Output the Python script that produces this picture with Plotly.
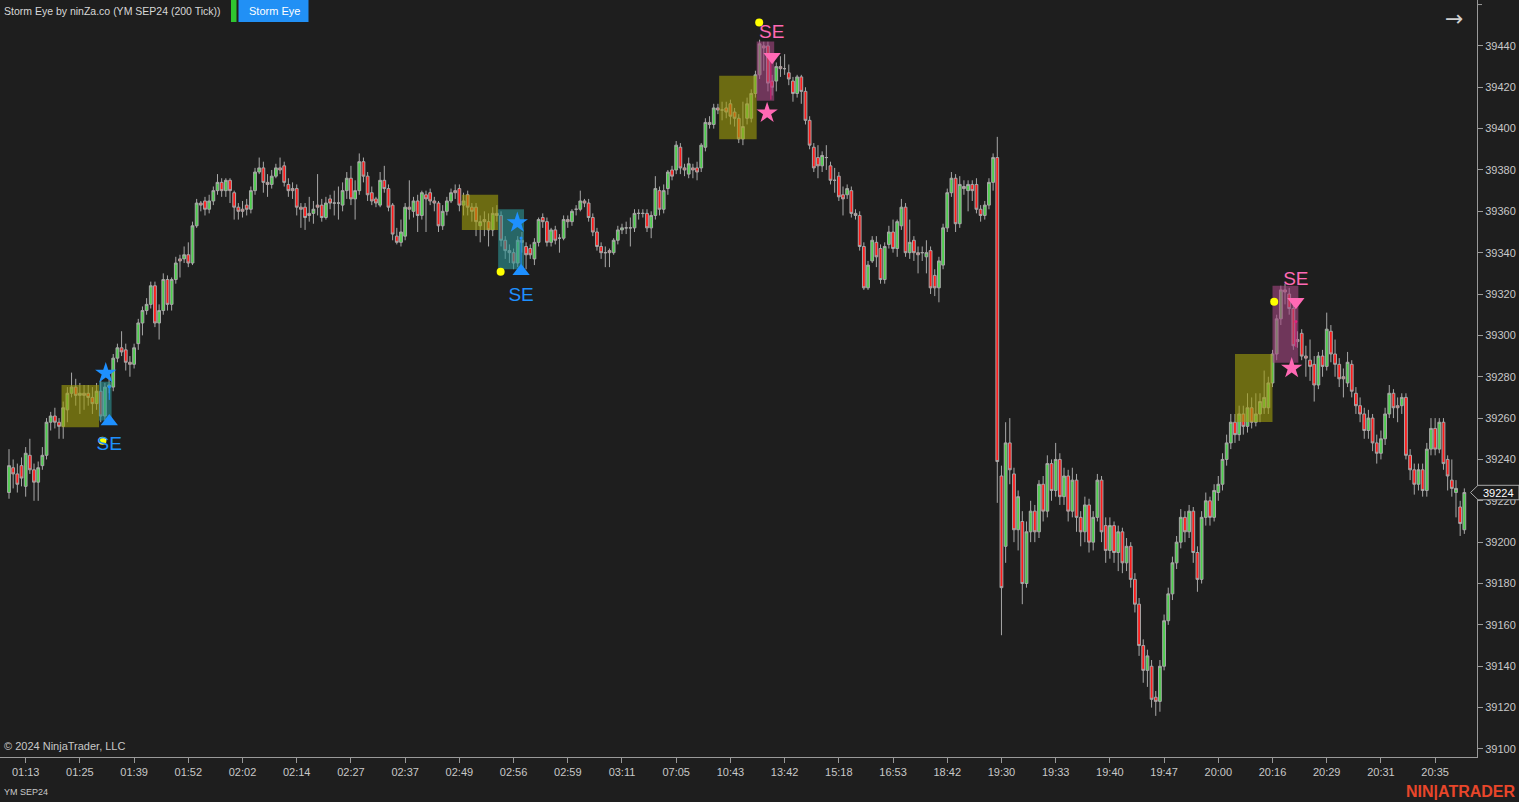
import plotly.graph_objects as go

# ---------------- data (200-tick bars, YM SEP24) ----------------
opens = [
39224,39236,39233,39237,39227,39242,39235,39229,39237,39242,
39258,39261,39258,39256,39264,39272,39275,39271,39272,39272,
39270,39267,39273,39261,39275,39275,39289,39294,39293,39287,
39286,39296,39306,39312,39315,39324,39306,39312,39327,39315,
39327,39337,39337,39339,39335,39353,39364,39365,39361,39365,
39370,39374,39370,39375,39369,39362,39361,39363,39361,39370,
39379,39381,39374,39373,39377,39381,39382,39373,39371,39371,
39362,39362,39359,39359,39363,39363,39357,39366,39364,39364,
39363,39370,39376,39366,39370,39384,39377,39369,39366,39363,
39375,39371,39363,39348,39345,39348,39362,39360,39365,39358,
39368,39369,39365,39364,39353,39360,39365,39370,39371,39363,
39368,39362,39362,39353,39356,39355,39351,39359,39358,39346,
39341,39340,39335,39346,39343,39342,39337,39345,39357,39355,
39345,39351,39347,39347,39356,39355,39361,39361,39365,39364,
39357,39350,39343,39340,39341,39340,39346,39351,39352,39352,
39352,39359,39359,39359,39352,39358,39370,39361,39371,39380,
39380,39391,39381,39378,39381,39381,39381,39391,39403,39402,
39410,39409,39410,39412,39408,39405,39395,39405,39405,39417,
39426,39440,39440,39423,39423,39430,39429,39427,39423,39417,
39425,39418,39404,39391,39386,39382,39386,39382,39375,39377,
39368,39368,39370,39359,39358,39343,39323,39336,39345,39342,
39327,39344,39350,39342,39353,39362,39340,39346,39340,39340,
39338,39341,39329,39323,39334,39352,39369,39376,39354,39372,
39370,39373,39373,39361,39358,39363,39374,39386,39232,39198,
39248,39233,39206,39210,39180,39205,39215,39205,39228,39215,
39238,39225,39240,39222,39232,39215,39230,39212,39205,39218,
39200,39212,39230,39208,39196,39208,39195,39205,39190,39198,
39182,39170,39150,39138,39140,39125,39123,39140,39162,39175,
39190,39200,39212,39205,39215,39195,39182,39212,39220,39212,
39224,39228,39240,39248,39258,39252,39262,39256,39265,39258,
39262,39265,39265,39277,39291,39308,39322,39320,39313,39298,
39301,39290,39288,39286,39276,39290,39285,39302,39291,39286,
39280,39277,39286,39272,39266,39262,39254,39260,39248,39243,
39250,39262,39272,39266,39266,39270,39242,39235,39228,39235,
39225,39245,39255,39245,39258,39240,39230,39224,39217,39206]

highs = [
39245,39240,39238,39241,39246,39250,39238,39239,39246,39260,
39263,39265,39260,39268,39275,39282,39279,39277,39276,39276,
39275,39277,39279,39277,39280,39291,39296,39302,39296,39290,
39296,39308,39314,39318,39326,39326,39315,39330,39329,39328,
39338,39339,39343,39345,39355,39366,39365,39367,39368,39372,
39378,39376,39376,39376,39370,39364,39365,39366,39372,39381,
39386,39384,39378,39380,39383,39386,39384,39376,39374,39373,
39364,39364,39367,39365,39378,39366,39367,39368,39370,39372,
39374,39379,39382,39375,39388,39386,39379,39372,39367,39379,
39382,39373,39364,39352,39356,39364,39375,39367,39368,39370,
39370,39371,39367,39365,39363,39367,39371,39373,39373,39369,
39370,39364,39364,39358,39360,39359,39362,39363,39360,39348,
39344,39342,39348,39350,39345,39344,39347,39357,39359,39357,
39352,39353,39349,39358,39358,39361,39363,39370,39366,39366,
39359,39352,39345,39343,39342,39347,39353,39354,39355,39357,
39361,39361,39361,39361,39360,39377,39372,39373,39380,39382,
39394,39393,39383,39386,39383,39384,39393,39405,39406,39412,
39412,39413,39413,39414,39410,39407,39413,39415,39419,39428,
39443,39442,39442,39426,39432,39435,39436,39431,39425,39426,
39426,39420,39406,39393,39392,39389,39392,39384,39381,39379,
39372,39373,39372,39361,39360,39345,39336,39348,39348,39344,
39345,39353,39356,39356,39366,39364,39356,39348,39343,39343,
39346,39343,39332,39338,39354,39371,39379,39378,39377,39375,
39375,39375,39376,39363,39365,39376,39388,39396,39237,39258,
39260,39236,39225,39215,39210,39220,39218,39230,39232,39242,
39240,39248,39243,39236,39235,39236,39233,39215,39222,39221,
39215,39233,39232,39212,39212,39210,39208,39207,39202,39200,
39185,39173,39153,39148,39143,39128,39143,39165,39178,39193,
39203,39216,39215,39218,39217,39198,39215,39224,39222,39228,
39232,39243,39252,39262,39262,39266,39266,39272,39270,39272,
39272,39283,39280,39293,39310,39324,39325,39323,39315,39302,
39303,39295,39298,39290,39292,39293,39311,39305,39298,39289,
39284,39292,39288,39275,39270,39265,39264,39262,39252,39254,
39265,39276,39274,39270,39272,39272,39245,39238,39238,39238,
39248,39260,39260,39260,39260,39242,39240,39230,39220,39226]

lows = [
39221,39226,39224,39227,39222,39233,39220,39220,39235,39240,
39254,39255,39250,39250,39258,39270,39266,39262,39264,39266,
39262,39264,39258,39259,39272,39273,39287,39290,39283,39280,
39284,39293,39300,39310,39313,39304,39298,39310,39312,39312,
39325,39328,39335,39333,39334,39352,39360,39358,39359,39363,
39368,39367,39367,39364,39356,39356,39357,39358,39359,39368,
39378,39369,39367,39371,39376,39378,39372,39367,39366,39358,
39352,39351,39355,39354,39358,39355,39356,39361,39358,39356,
39360,39366,39363,39356,39368,39374,39365,39363,39362,39362,
39369,39360,39346,39344,39343,39346,39356,39357,39350,39356,
39350,39363,39360,39350,39351,39358,39364,39366,39360,39358,
39358,39355,39348,39345,39348,39343,39348,39355,39343,39337,
39335,39332,39333,39340,39332,39337,39334,39343,39352,39343,
39343,39344,39340,39346,39352,39353,39358,39360,39362,39355,
39348,39341,39337,39333,39333,39339,39344,39349,39349,39343,
39350,39356,39357,39350,39347,39356,39358,39359,39368,39375,
39378,39378,39377,39376,39376,39375,39379,39389,39400,39400,
39407,39404,39405,39402,39401,39393,39392,39402,39403,39415,
39424,39428,39418,39416,39418,39425,39426,39421,39413,39415,
39412,39402,39390,39379,39376,39379,39380,39373,39369,39365,
39358,39366,39357,39356,39341,39322,39322,39335,39333,39325,
39325,39342,39340,39338,39351,39338,39337,39336,39330,39336,
39330,39320,39319,39316,39332,39350,39367,39350,39352,39368,
39360,39365,39359,39355,39356,39361,39370,39219,39155,39190,
39228,39200,39196,39170,39178,39200,39200,39202,39210,39212,
39220,39222,39218,39218,39210,39212,39205,39198,39200,39195,
39196,39210,39200,39190,39192,39190,39186,39185,39186,39178,
39166,39145,39132,39130,39120,39116,39118,39138,39160,39172,
39187,39197,39200,39202,39190,39176,39180,39208,39208,39210,
39220,39225,39237,39245,39248,39249,39252,39253,39255,39256,
39258,39262,39262,39275,39288,39305,39315,39310,39293,39294,
39288,39280,39278,39268,39274,39280,39283,39287,39280,39275,
39270,39275,39270,39262,39258,39250,39250,39244,39238,39240,
39247,39260,39260,39258,39262,39240,39230,39223,39225,39222,
39222,39242,39242,39243,39235,39225,39222,39212,39203,39204]

closes = [
39237,39233,39228,39231,39243,39235,39229,39236,39242,39258,
39261,39258,39256,39265,39272,39275,39271,39272,39271,39270,
39267,39273,39261,39275,39276,39289,39294,39292,39287,39286,
39294,39306,39312,39315,39324,39306,39312,39327,39315,39327,
39335,39336,39339,39335,39353,39364,39363,39361,39365,39370,
39374,39370,39375,39370,39362,39360,39360,39361,39370,39379,
39381,39374,39373,39377,39381,39380,39374,39370,39370,39362,
39361,39357,39358,39361,39362,39357,39364,39364,39364,39364,
39370,39376,39366,39370,39384,39377,39368,39365,39364,39375,
39371,39362,39349,39345,39350,39362,39361,39365,39358,39369,
39366,39365,39364,39353,39360,39365,39369,39369,39363,39365,
39362,39360,39355,39355,39355,39351,39359,39358,39346,39341,
39340,39335,39346,39345,39339,39339,39345,39356,39355,39345,
39351,39346,39347,39356,39355,39360,39361,39365,39364,39357,
39350,39343,39340,39340,39340,39346,39351,39352,39352,39352,
39359,39359,39359,39352,39358,39371,39361,39370,39379,39377,
39392,39381,39380,39383,39380,39379,39392,39403,39402,39410,
39409,39409,39408,39406,39405,39395,39401,39412,39417,39426,
39441,39439,39422,39420,39430,39429,39429,39424,39417,39425,
39418,39404,39392,39381,39382,39387,39386,39375,39375,39367,
39366,39371,39359,39358,39343,39323,39334,39346,39338,39327,
39343,39350,39342,39355,39362,39340,39345,39340,39339,39340,
39340,39323,39323,39336,39352,39369,39376,39354,39373,39371,
39373,39370,39361,39358,39363,39374,39386,39239,39178,39248,
39235,39206,39222,39180,39205,39215,39205,39228,39215,39238,
39225,39240,39222,39232,39215,39230,39212,39205,39218,39200,
39212,39230,39205,39196,39208,39195,39205,39190,39198,39182,
39170,39150,39138,39145,39124,39123,39140,39162,39175,39190,
39200,39212,39205,39215,39195,39182,39212,39220,39212,39225,
39228,39240,39248,39258,39252,39262,39256,39265,39258,39262,
39268,39270,39277,39291,39308,39322,39321,39313,39295,39297,
39290,39289,39285,39276,39290,39285,39303,39291,39286,39279,
39279,39287,39273,39266,39262,39254,39260,39248,39243,39250,
39262,39272,39265,39265,39270,39242,39235,39228,39235,39225,
39245,39255,39245,39258,39238,39232,39226,39226,39209,39224]

tick_bars = [4, 17, 30, 43, 56, 69, 82, 95, 108, 121, 134, 147, 160, 173,
             186, 199, 212, 225, 238, 251, 264, 277, 290, 303, 316, 329, 342]
tick_text = ["01:13", "01:25", "01:39", "01:52", "02:02", "02:14", "02:27",
             "02:37", "02:49", "02:56", "02:59", "03:11", "07:05", "10:43",
             "13:42", "15:18", "16:53", "18:42", "19:30", "19:33", "19:40",
             "19:47", "20:00", "20:16", "20:29", "20:31", "20:35"]
price_ticks = list(range(39100, 39441, 20))
last_price = 39224

# Storm Eye zones (bar index span, price span)
box_kind = ["yellow", "teal", "yellow", "teal", "yellow", "pink", "yellow", "pink"]
box_x0 = [12.6, 21.6, 108.6, 117.3, 170.3, 179.3, 294.0, 303.0]
box_x1 = [21.6, 24.6, 117.3, 123.5, 179.3, 183.5, 303.0, 309.2]
box_top = [39276.0, 39277.6, 39368.0, 39361.0, 39425.6, 39442.1, 39291.0, 39324.0]
box_bot = [39255.6, 39258.8, 39351.0, 39332.0, 39394.9, 39413.5, 39258.1, 39286.8]

# signals
buy_tri_x = [24.05, 122.8];  buy_tri_y = [39258.3, 39331.0]
buy_star_x = [23.2, 121.9];  buy_star_y = [39281.7, 39354.5]
buy_se_x = [24.05, 122.8];   buy_se_y = [39247.0, 39318.7]
sell_tri_x = [183.0, 308.6]; sell_tri_y = [39434.8, 39316.3]
sell_star_x = [181.8, 307.6]; sell_star_y = [39407.6, 39284.1]
sell_se_x = [182.9, 308.6];  sell_se_y = [39446.3, 39326.8]
dot_x = [22.4, 117.9, 179.9, 303.4]
dot_y = [39249.0, 39330.8, 39451.3, 39316.3]
buy_line_x = [24.05, 122.8]; buy_line_top = [39275.2, 39347.1]; buy_line_bot = [39268.8, 39334.1]
sell_line_x = [182.7, 308.6]; sell_line_top = [39434.0, 39306.7]; sell_line_bot = [39414.0, 39294.3]

# ---------------- figure ----------------
n = min(len(opens), len(highs), len(lows), len(closes))
idx = list(range(n))

BG = "#1e1e1e"
W, H = 1519, 802
ML, MR, MT, MB = 0, 42, 0, 45
PW, PH = W - ML - MR, H - MT - MB
FONT = "Liberation Sans"
TXT = "#c8c8c8"
AX = "#9a9a9a"
BLUE = "#1e90ff"
PINK = "#ff69b4"


def px(x):
    return x / PW


def py(y):
    return 1 - y / PH


fig = go.Figure()
fig.add_trace(go.Candlestick(
    x=idx, open=opens[:n], high=highs[:n], low=lows[:n], close=closes[:n],
    increasing=dict(line=dict(color="#a8a8a8", width=1), fillcolor="#4ccf4c"),
    decreasing=dict(line=dict(color="#a8a8a8", width=1), fillcolor="#ff1a1a"),
    whiskerwidth=0, hoverinfo="skip", showlegend=False))

box_colors = {"yellow": "rgba(160,158,10,0.6)",
              "teal": "rgba(45,150,150,0.6)",
              "pink": "rgba(165,70,130,0.6)"}
for k, x0, x1, t, b in zip(box_kind, box_x0, box_x1, box_top, box_bot):
    fig.add_trace(go.Scatter(x=[x0, x1, x1, x0, x0], y=[b, b, t, t, b],
                             fill="toself", fillcolor=box_colors[k],
                             line=dict(width=0), mode="lines",
                             hoverinfo="skip", showlegend=False))

for xs, tops, bots, col in [(buy_line_x, buy_line_top, buy_line_bot, BLUE),
                            (sell_line_x, sell_line_top, sell_line_bot, "#e0207a")]:
    for x, t, b in zip(xs, tops, bots):
        fig.add_trace(go.Scatter(x=[x, x], y=[b, t], mode="lines",
                                 line=dict(color=col, width=1),
                                 hoverinfo="skip", showlegend=False))
        fig.add_trace(go.Scatter(x=[x], y=[t], mode="markers",
                                 marker=dict(size=3, color=col),
                                 hoverinfo="skip", showlegend=False))

fig.add_trace(go.Scatter(x=dot_x, y=dot_y, mode="markers",
                         marker=dict(symbol="circle", size=8, color="#ffff00"),
                         hoverinfo="skip", showlegend=False))
fig.add_trace(go.Scatter(x=buy_tri_x, y=buy_tri_y, mode="markers",
                         marker=dict(symbol="triangle-up", size=15, color=BLUE),
                         hoverinfo="skip", showlegend=False))
fig.add_trace(go.Scatter(x=buy_star_x, y=buy_star_y, mode="markers",
                         marker=dict(symbol="star", size=16, color=BLUE),
                         hoverinfo="skip", showlegend=False))
fig.add_trace(go.Scatter(x=sell_tri_x, y=sell_tri_y, mode="markers",
                         marker=dict(symbol="triangle-down", size=15, color=PINK),
                         hoverinfo="skip", showlegend=False))
fig.add_trace(go.Scatter(x=sell_star_x, y=sell_star_y, mode="markers",
                         marker=dict(symbol="star", size=16, color=PINK),
                         hoverinfo="skip", showlegend=False))
fig.add_trace(go.Scatter(x=buy_se_x, y=buy_se_y, mode="text", text=["SE"] * len(buy_se_x),
                         textfont=dict(family=FONT, size=19, color=BLUE),
                         hoverinfo="skip", showlegend=False))
fig.add_trace(go.Scatter(x=sell_se_x, y=sell_se_y, mode="text", text=["SE"] * len(sell_se_x),
                         textfont=dict(family=FONT, size=19, color=PINK),
                         hoverinfo="skip", showlegend=False))


def ann(text, x, y, size=11, color=TXT, xanchor="left", family=FONT):
    return dict(text=text, x=px(x), y=py(y), xref="paper", yref="paper",
                showarrow=False, xanchor=xanchor, yanchor="middle",
                font=dict(size=size, color=color, family=family))


annotations = [
    ann("Storm Eye by ninZa.co (YM SEP24 (200 Tick))", 2, 11, size=10.5, color="#d8d8d8"),
    ann("Storm Eye", 274, 11, size=11, color="#ffffff", xanchor="center"),
    ann("→", 1454, 19, size=22, color="#d0d0d0", xanchor="center", family="DejaVu Sans"),
    ann("© 2024 NinjaTrader, LLC", 2, 746, size=11),
    ann("YM SEP24", 2, 792, size=9),
    ann("<b>NIN|ATRADER</b>", 1518, 791, size=16, color="#e8462a", xanchor="right"),
    dict(text=str(last_price), x=px(1498), y=last_price, xref="paper", yref="y",
         showarrow=False, xanchor="center", yanchor="middle",
         font=dict(size=11, color="#ffffff", family=FONT)),
]

tag_top = last_price + 3.5
tag_bot = last_price - 3.5
shapes = [
    dict(type="rect", xref="paper", yref="paper", x0=px(231), x1=px(236.5),
         y0=py(0), y1=py(22), fillcolor="#2fc52f", line=dict(width=0)),
    dict(type="rect", xref="paper", yref="paper", x0=px(238.5), x1=px(308.5),
         y0=py(0), y1=py(22), fillcolor="#2190f5", line=dict(width=0)),
    dict(type="path", xref="paper", yref="y", layer="above",
         path=f"M {px(1470.5)},{last_price} L {px(1478)},{tag_top} L {px(1519)},{tag_top} "
              f"L {px(1519)},{tag_bot} L {px(1478)},{tag_bot} Z",
         fillcolor=BG, line=dict(color="#a8a8a8", width=1)),
    dict(type="line", xref="paper", yref="y", x0=1, x1=px(PW + 5), y0=39460, y1=39460,
         line=dict(color=AX, width=1)),
]

fig.update_layout(
    width=W, height=H,
    margin=dict(l=ML, r=MR, t=MT, b=MB, pad=0),
    paper_bgcolor=BG, plot_bgcolor=BG,
    showlegend=False, hovermode=False, boxgap=0.05,
    annotations=annotations, shapes=shapes,
    xaxis=dict(range=[-9 / 4.17, (PW - 9) / 4.17], showgrid=False, zeroline=False,
               showline=True, linecolor=AX, linewidth=1,
               ticks="outside", ticklen=5, tickcolor=AX,
               tickvals=tick_bars, ticktext=tick_text,
               tickfont=dict(size=11, color=TXT, family=FONT),
               rangeslider=dict(visible=False), fixedrange=True),
    yaxis=dict(range=[39096.1, 39462.2], side="right", showgrid=False, zeroline=False,
               showline=True, linecolor=AX, linewidth=1,
               ticks="outside", ticklen=5, tickcolor=AX,
               tickvals=price_ticks, ticktext=[str(p) for p in price_ticks],
               tickfont=dict(size=11, color=TXT, family=FONT), fixedrange=True),
)

fig.write_html("out.html", config={"displayModeBar": False},
               post_script="document.body.style.margin='0';"
                           "document.body.style.background='#1e1e1e';"
                           "document.body.style.overflow='hidden';")
